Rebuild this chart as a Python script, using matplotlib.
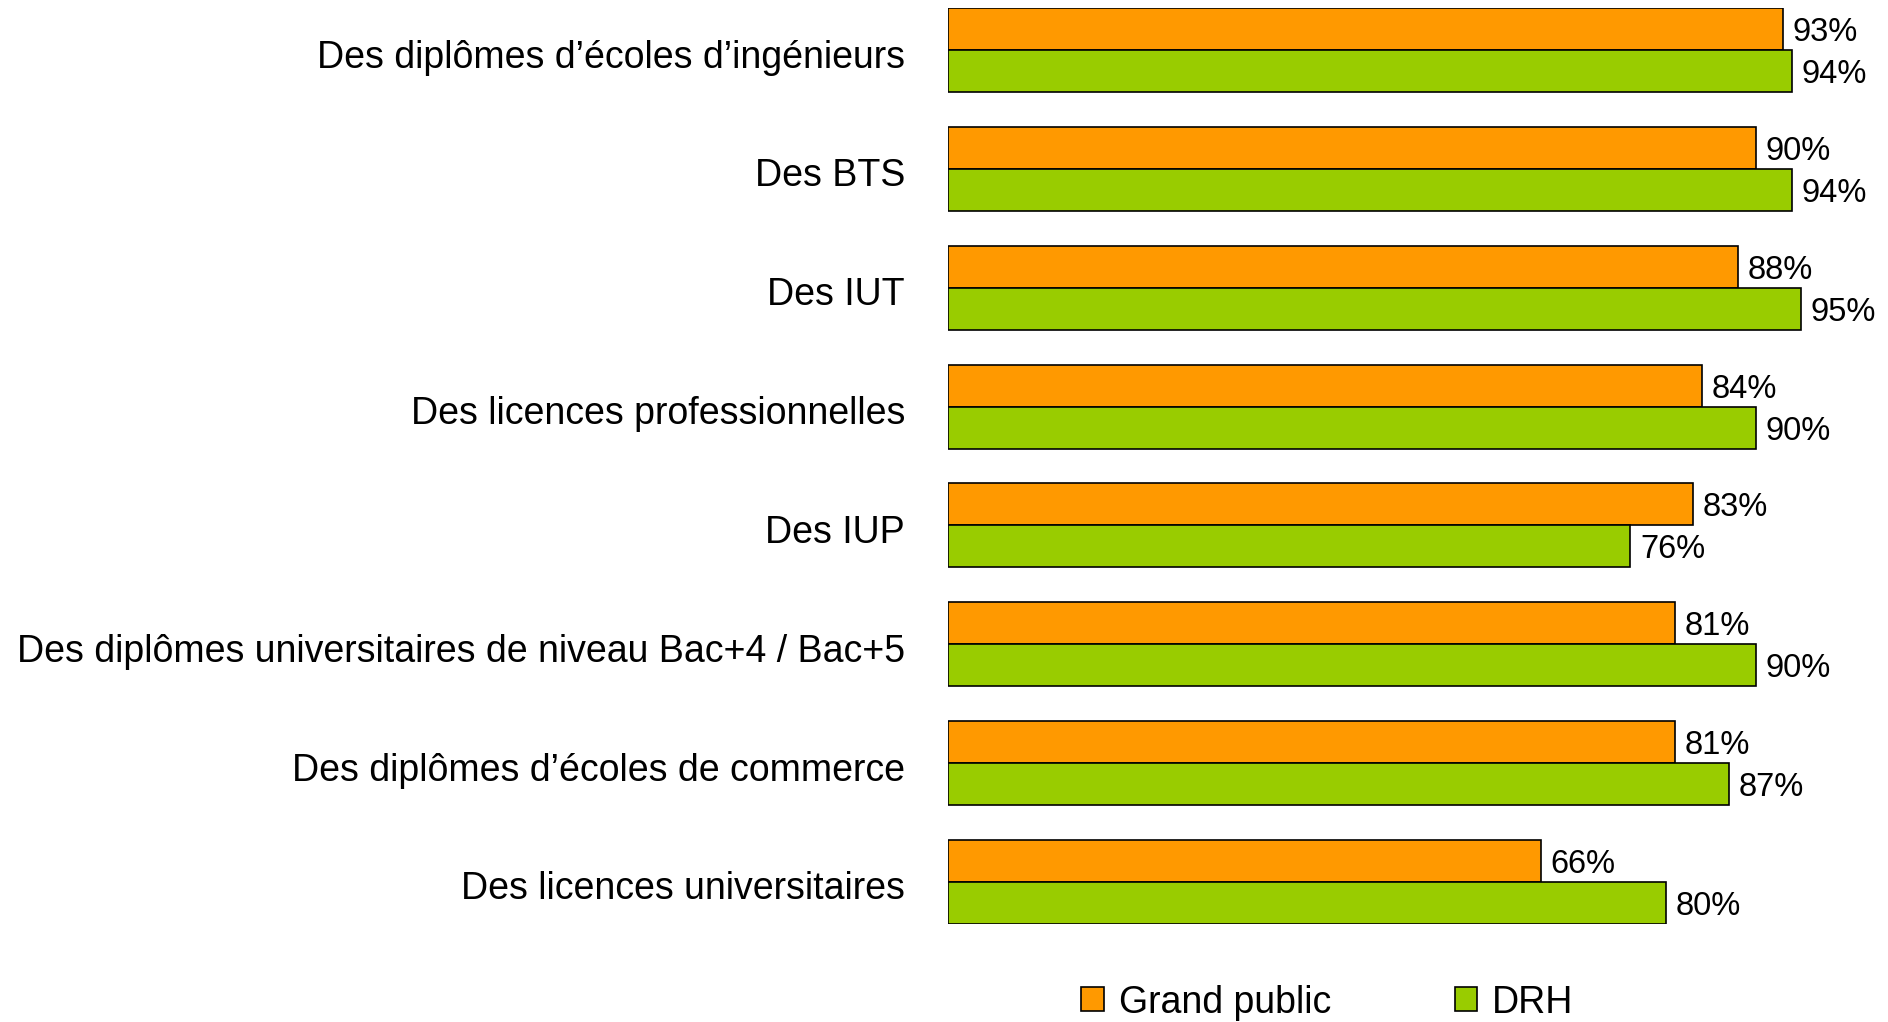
import matplotlib
matplotlib.use("Agg")
import matplotlib.pyplot as plt
import matplotlib.transforms as mtrans
from matplotlib.patches import Patch
import numpy as np

categories = [
    "Des diplômes d\u2019écoles d\u2019ingénieurs",
    "Des BTS",
    "Des IUT",
    "Des licences professionnelles",
    "Des IUP",
    "Des diplômes universitaires de niveau Bac+4 / Bac+5",
    "Des diplômes d\u2019écoles de commerce",
    "Des licences universitaires",
]
grand_public = [93, 90, 88, 84, 83, 81, 81, 66]
drh = [94, 94, 95, 90, 76, 90, 87, 80]
series_names = ["Grand public", "DRH"]

orange = "#FF9900"
green = "#99CC00"
fam = "Liberation Sans"

fig = plt.figure(figsize=(18.88, 10.22), dpi=100)
ax = fig.add_axes([948 / 1888, 1 - 924 / 1022, 898 / 1888, 916 / 1022])

h = 0.354
y = np.arange(len(categories))
ax.barh(y - h / 2, grand_public, height=h, color=orange, edgecolor="black", linewidth=1.2)
ax.barh(y + h / 2, drh, height=h, color=green, edgecolor="black", linewidth=1.2)

for i in range(len(categories)):
    ax.annotate(f"{grand_public[i]}%", (grand_public[i], y[i] - h / 2), xytext=(7, -2.5),
                textcoords="offset points", va="center", ha="left", fontsize=23.5, family=fam)
    ax.annotate(f"{drh[i]}%", (drh[i], y[i] + h / 2), xytext=(7, -2.5),
                textcoords="offset points", va="center", ha="left", fontsize=23.5, family=fam)

ax.set_xlim(0, 100)
ax.set_ylim(len(categories) - 1 + h, -h)
ax.set_xticks([])
ax.set_yticks(y)
ax.set_yticklabels(categories, fontsize=27, family=fam)
ax.tick_params(axis="y", length=0, pad=31)
# push the category labels down a touch
shift = mtrans.ScaledTranslation(0, -2.5 / 72, fig.dpi_scale_trans)
for lab in ax.get_yticklabels():
    lab.set_transform(lab.get_transform() + shift)
for sp in ax.spines.values():
    sp.set_visible(False)

handles = [Patch(facecolor=orange, edgecolor="black", linewidth=1.2),
           Patch(facecolor=green, edgecolor="black", linewidth=1.2)]
fig.legend(handles, series_names, loc="center", bbox_to_anchor=(0.703, 0.019), ncol=2,
           frameon=False, prop={"family": fam, "size": 27},
           handlelength=0.6, handleheight=0.6, handletextpad=0.4, columnspacing=3.3)

fig.savefig("out.png", dpi=100)
